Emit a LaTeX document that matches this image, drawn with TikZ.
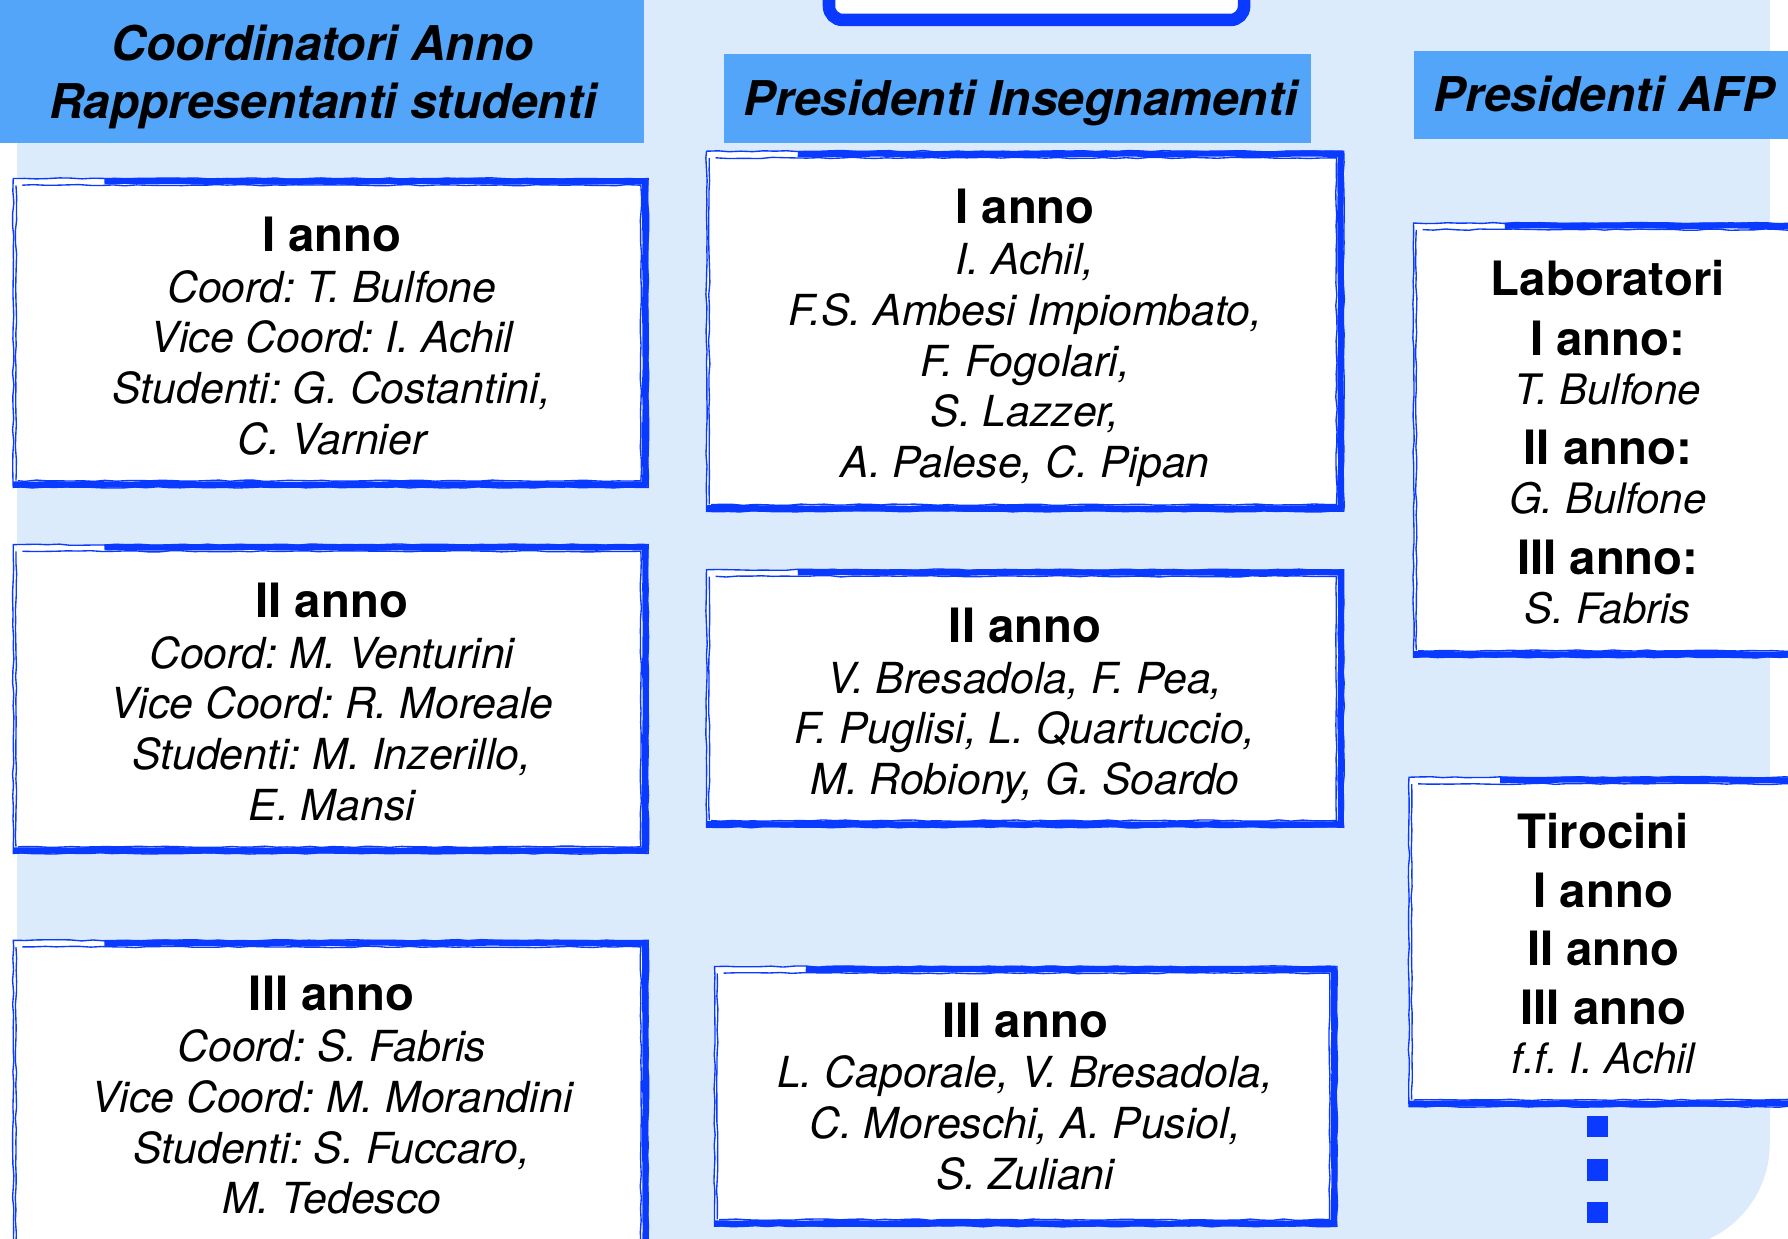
\documentclass[tikz,border=0pt]{standalone}
\usepackage{fontspec}
\setmainfont{TeX Gyre Heros}
\usetikzlibrary{decorations.pathmorphing}
\definecolor{bgblue}{HTML}{DCEBFB}
\definecolor{hdrblue}{HTML}{52A5F8}
\definecolor{edge}{HTML}{0A3AFF}
\tikzset{
  hdr/.style={fill=hdrblue, inner sep=0pt},
  hdrtext/.style={font=\frenchspacing\fontsize{21}{25.5}\selectfont\bfseries\itshape, inner sep=0pt, align=center},
  panel/.style={fill=white, inner sep=0pt},
  names/.style={font=\frenchspacing\fontsize{18.75}{22.25}\selectfont\itshape, inner sep=0pt, align=center, anchor=north},
  afp/.style={font=\frenchspacing\fontsize{18.4}{21.5}\selectfont\itshape, inner sep=0pt, align=center, anchor=north},
  skthin/.style={draw=edge, line width=0.6pt, decorate, decoration={random steps, segment length=5pt, amplitude=0.3pt}},
  skthick/.style={draw=edge, line width=2.7pt, line join=round, decorate, decoration={random steps, segment length=9pt, amplitude=0.25pt}},
  dot/.style={fill=edge, inner sep=0pt, minimum size=9.3pt},
}
\newcommand\yr[1]{{\rule{0pt}{16pt}\fontsize{20.75}{22.25}\selectfont\bfseries\upshape #1}}
\newcommand\by[1]{{\fontsize{20.75}{22.25}\selectfont\bfseries\upshape #1}}
\newcommand\skframe[1]{%
  \draw[skthin] (#1.north west) -- (#1.north east) -- (#1.south east) -- (#1.south west) -- cycle;
  \draw[skthick] ([xshift=40pt,yshift=-1.2pt]#1.north west) -- ([xshift=-1.3pt,yshift=-1.2pt]#1.north east) -- ([xshift=-1.3pt,yshift=1.3pt]#1.south east) -- ([yshift=1.3pt]#1.south west);
  \draw[skthin] ([xshift=4pt,yshift=-2.9pt]#1.north west) -- ([xshift=-3.2pt,yshift=-2.9pt]#1.north east) -- ([xshift=-3.2pt,yshift=2.9pt]#1.south east) -- ([xshift=2pt,yshift=2.9pt]#1.south west);
  \draw[skthin] ([xshift=1.2pt,yshift=-3pt]#1.north west) -- ([xshift=1.2pt,yshift=3pt]#1.south west);
}
\pgfmathsetseed{7}
\begin{document}
\begin{tikzpicture}[x=0.5pt, y=-0.5pt]
\path[use as bounding box, clip] (0,0) rectangle (1568,1086);
\fill[white] (0,0) rectangle (1568,1086);
\fill[bgblue] (15,-5) -- (1552,-5) -- (1552,1003) arc[start angle=0, end angle=-90, radius=46pt] -- (15,1095) -- cycle;

\node[draw=edge, fill=white, line width=5.5pt, rounded corners=6pt, minimum width=182pt, minimum height=38.75pt, inner sep=0pt] (topbox) at (909,-21.25) {};

% headers
\node[hdr, minimum width=282.5pt, minimum height=67.5pt] (hl) at (282.5,57.5) {};
\node[hdrtext, anchor=north] (hlt) at (283,20.6) {\rule{0pt}{16pt}Coordinatori Anno\\Rappresentanti studenti};
\node[hdr, minimum width=257.5pt, minimum height=39pt] (hm) at (892.5,86) {};
\node[hdrtext, anchor=base] (hmt) at (895,101) {Presidenti Insegnamenti};
\node[hdr, minimum width=180pt, minimum height=38.5pt] (hr) at (1420,83.5) {};
\node[hdrtext, anchor=base] (hrt) at (1406.5,98) {Presidenti AFP};

% left column
\node[panel, minimum width=278pt, minimum height=135pt] (l1) at (290,292) {};
\skframe{l1}
\node[names] (l1t) at (291,188) {\yr{I anno}\\Coord: T. Bulfone\\Vice Coord: I. Achil\\Studenti: G. Costantini,\\C. Varnier};

\node[panel, minimum width=278pt, minimum height=135pt] (l2) at (290,613) {};
\skframe{l2}
\node[names] (l2t) at (291,509) {\yr{II anno}\\Coord: M. Venturini\\Vice Coord: R. Moreale\\Studenti: M. Inzerillo,\\E. Mansi};

\node[panel, minimum width=278pt, minimum height=137.5pt] (l3) at (290,962.5) {};
\skframe{l3}
\node[names] (l3t) at (291,854) {\yr{III anno}\\Coord: S. Fabris\\Vice Coord: M. Morandini\\Studenti: S. Fuccaro,\\M. Tedesco};

% middle column
\node[panel, minimum width=279pt, minimum height=157.5pt] (m1) at (899,290.5) {};
\skframe{m1}
\node[names] (m1t) at (899,164) {\yr{I anno}\\I. Achil,\\F.S. Ambesi Impiombato,\\F. Fogolari,\\S. Lazzer,\\A. Palese, C. Pipan};

\node[panel, minimum width=279pt, minimum height=112.5pt] (m2) at (899,612.5) {};
\skframe{m2}
\node[names] (m2t) at (899,531) {\yr{II anno}\\V. Bresadola, F. Pea,\\F. Puglisi, L. Quartuccio,\\M. Robiony, G. Soardo};

\node[panel, minimum width=272.5pt, minimum height=113.5pt] (m3) at (899.5,961.5) {};
\skframe{m3}
\node[names] (m3t) at (899,877) {\yr{III anno}\\L. Caporale, V. Bresadola,\\C. Moreschi, A. Pusiol,\\S. Zuliani};

% right column
\node[panel, minimum width=185pt, minimum height=190pt] (r1) at (1425,386) {};
\skframe{r1}
\node[afp] (r1t) at (1410,227) {\yr{Laboratori}\\[4.5pt]\by{I anno:}\\T. Bulfone\\[5pt]\by{II anno:}\\G. Bulfone\\[5pt]\by{III anno:}\\S. Fabris};

\node[panel, minimum width=187pt, minimum height=144pt] (r2) at (1423,826) {};
\skframe{r2}
\node[afp] (r2t) at (1406,712) {\yr{Tirocini}\\[4pt]\by{I anno}\\[4pt]\by{II anno}\\[4.5pt]\by{III anno}\\f.f. I. Achil};

\node[dot] (sq1) at (1401,988) {};
\node[dot] (sq2) at (1401,1026) {};
\node[dot] (sq3) at (1401,1063) {};
\end{tikzpicture}
\end{document}
